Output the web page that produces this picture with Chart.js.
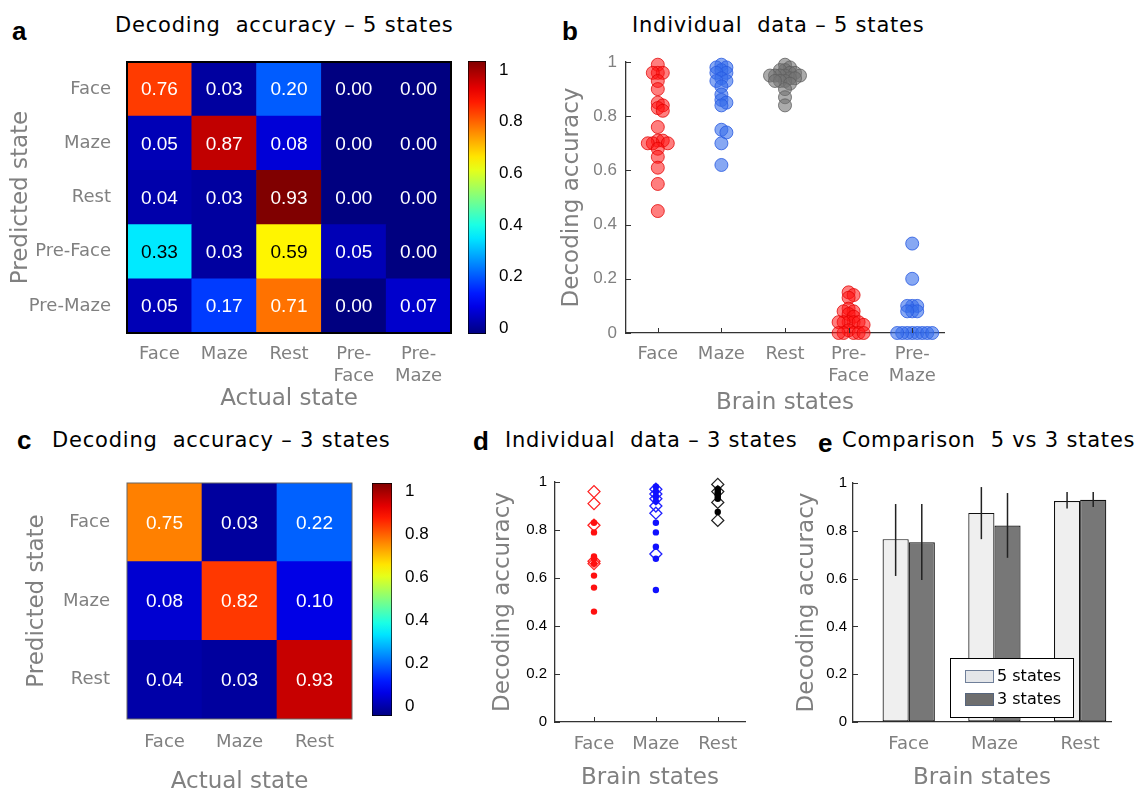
<!DOCTYPE html>
<html>
<head>
<meta charset="utf-8">
<script src="https://cdn.jsdelivr.net/npm/chart.js@4.4.0/dist/chart.umd.min.js"></script>
<style>
  body { margin: 0; width: 1141px; height: 792px; background: #fff; position: relative; overflow: hidden; }
  canvas { position: absolute; }
  .letter { position: absolute; font: bold 26px "Liberation Sans", Arial, sans-serif; line-height: 1; color: #000; }
  .title { position: absolute; font: 21px "DejaVu Sans", sans-serif; line-height: 1; letter-spacing: 0.8px; color: #000; white-space: pre; }
</style>
</head>
<body>
<div class="letter" style="left:12px;top:18px">a</div>
<div class="title" style="left:115px;top:15px">Decoding  accuracy – 5 states</div>
<div class="letter" style="left:562px;top:18px">b</div>
<div class="title" style="left:632px;top:15px">Individual  data – 5 states</div>
<div class="letter" style="left:17px;top:427px">c</div>
<div class="title" style="left:52px;top:430px">Decoding  accuracy – 3 states</div>
<div class="letter" style="left:473px;top:428px">d</div>
<div class="title" style="left:505px;top:430px">Individual  data – 3 states</div>
<div class="letter" style="left:818px;top:430px">e</div>
<div class="title" style="left:842px;top:430px">Comparison  5 vs 3 states</div>

<canvas id="chartA" width="462" height="370" style="left:0;top:50px"></canvas>
<canvas id="cbarA" width="70" height="300" style="left:455px;top:50px"></canvas>
<canvas id="chartB" width="420" height="370" style="left:540px;top:50px"></canvas>
<canvas id="chartC" width="362" height="330" style="left:0;top:470px"></canvas>
<canvas id="cbarC" width="70" height="260" style="left:362px;top:470px"></canvas>
<canvas id="chartD" width="290" height="330" style="left:470px;top:470px"></canvas>
<canvas id="chartE" width="351" height="330" style="left:790px;top:470px"></canvas>

<script>
// Data
const states5 = ['Face', 'Maze', 'Rest', 'Pre-Face', 'Pre-Maze'];
const states5Ticks = ['Face', 'Maze', 'Rest', ['Pre-', 'Face'], ['Pre-', 'Maze']];
const states3 = ['Face', 'Maze', 'Rest'];

// confusion matrices, rows = predicted, cols = actual
const confusion5 = [
    [0.76, 0.03, 0.20, 0.00, 0.00],
    [0.05, 0.87, 0.08, 0.00, 0.00],
    [0.04, 0.03, 0.93, 0.00, 0.00],
    [0.33, 0.03, 0.59, 0.05, 0.00],
    [0.05, 0.17, 0.71, 0.00, 0.07]
];
const confusion3 = [
    [0.75, 0.03, 0.22],
    [0.08, 0.82, 0.10],
    [0.04, 0.03, 0.93]
];
const colorLimit5 = 0.93;
const colorLimit3 = 1.0;
const colorbarTicks = [0, 0.2, 0.4, 0.6, 0.8, 1];
const accuracyTicks = [0, 0.2, 0.4, 0.6, 0.8, 1];

// individual subjects, 5-state decoder
const indiv5Face = [0.99, 0.96, 0.96, 0.96, 0.93, 0.90, 0.85, 0.84, 0.83, 0.82, 0.76, 0.71, 0.71, 0.70, 0.70, 0.70, 0.68, 0.65, 0.61, 0.55, 0.45];
const indiv5Maze = [0.99, 0.98, 0.98, 0.97, 0.96, 0.96, 0.94, 0.93, 0.93, 0.91, 0.88, 0.86, 0.85, 0.84, 0.75, 0.74, 0.70, 0.62];
const indiv5Rest = [0.99, 0.98, 0.97, 0.97, 0.96, 0.96, 0.95, 0.95, 0.95, 0.95, 0.95, 0.94, 0.94, 0.93, 0.93, 0.93, 0.92, 0.90, 0.87, 0.84];
const indiv5PreFace = [0.15, 0.14, 0.13, 0.09, 0.08, 0.08, 0.07, 0.06, 0.04, 0.04, 0.04, 0.04, 0.04, 0.03, 0.01, 0, 0, 0, 0, 0];
const indiv5PreMaze = [0.33, 0.20, 0.10, 0.10, 0.10, 0.08, 0.08, 0.08, 0, 0, 0, 0, 0, 0, 0, 0];

// individual subjects, 3-state decoder (dots / open diamonds)
const indiv3FaceDots = [0.83, 0.79, 0.69, 0.68, 0.66, 0.61, 0.56, 0.46];
const indiv3FaceDiamonds = [0.96, 0.91, 0.82, 0.67, 0.66];
const indiv3MazeDots = [0.98, 0.96, 0.94, 0.92, 0.83, 0.79, 0.73, 0.68, 0.55];
const indiv3MazeDiamonds = [0.97, 0.95, 0.93, 0.90, 0.87, 0.70];
const indiv3RestDots = [0.97, 0.96, 0.95, 0.95, 0.94, 0.93, 0.875];
const indiv3RestDiamonds = [0.99, 0.96, 0.915, 0.84];

// comparison 5 vs 3 states
const mean5 = [0.765, 0.875, 0.925];
const mean3 = [0.752, 0.822, 0.930];
const err5Low = [0.611, 0.765, 0.893];
const err5High = [0.912, 0.983, 0.962];
const err3Low = [0.594, 0.687, 0.900];
const err3High = [0.912, 0.958, 0.962];

// Styles
const GREY = '#808080';
const AXIS = '#333';
const SANS = '"DejaVu Sans", sans-serif';
const ARIAL = '"Liberation Sans", Arial, sans-serif';

// jet colormap, t in [0, 1]
function jetRGB(t) {
    const c = x => Math.round(255 * Math.max(0, Math.min(1, x)));
    return [c(1.5 - Math.abs(4 * t - 3)), c(1.5 - Math.abs(4 * t - 2)), c(1.5 - Math.abs(4 * t - 1))];
}
function jet(t) {
    const [r, g, b] = jetRGB(t);
    return `rgb(${r},${g},${b})`;
}

// fixed axis box, no extra label overflow padding
function fixBox(size) {
    return s => {
        if (s.isHorizontal()) s.height = size; else s.width = size;
        s.paddingTop = s.paddingBottom = s.paddingLeft = s.paddingRight = 0;
    };
}

// Plugins
const cellText = {
    id: 'cellText',
    afterDatasetsDraw(chart, args, opts) {
        const ctx = chart.ctx;
        ctx.save();
        ctx.font = `19px ${ARIAL}`;
        ctx.textAlign = 'center';
        ctx.textBaseline = 'middle';
        chart.data.datasets.forEach((ds, di) => {
            chart.getDatasetMeta(di).data.forEach((bar, i) => {
                const v = ds.cells[i];
                const g = jetRGB(v / opts.limit)[1];
                ctx.fillStyle = g > 200 ? '#000' : '#fff';
                ctx.fillText(v.toFixed(2), bar.x, (bar.y + bar.base) / 2 + 1);
            });
        });
        const a = chart.chartArea;
        ctx.strokeStyle = opts.frameColor;
        ctx.lineWidth = opts.frameWidth;
        ctx.strokeRect(a.left, a.top, a.width, a.height);
        ctx.restore();
    }
};

const innerTicks = {
    id: 'innerTicks',
    afterDraw(chart, args, opts) {
        const { ctx, chartArea: a, scales } = chart;
        ctx.save();
        ctx.strokeStyle = AXIS;
        ctx.lineWidth = 1;
        ctx.beginPath();
        if (opts.x) {
            scales.x.ticks.forEach(t => {
                const px = Math.round(scales.x.getPixelForValue(t.value)) + 0.5;
                ctx.moveTo(px, a.bottom);
                ctx.lineTo(px, a.bottom - 5);
            });
        }
        if (opts.y) {
            scales.y.ticks.forEach(t => {
                const py = Math.round(scales.y.getPixelForValue(t.value)) + 0.5;
                ctx.moveTo(a.left, py);
                ctx.lineTo(a.left + 5, py);
            });
        }
        ctx.stroke();
        ctx.restore();
    }
};

const errorBars = {
    id: 'errorBars',
    afterDatasetsDraw(chart) {
        const { ctx, scales: { y } } = chart;
        ctx.save();
        ctx.strokeStyle = '#222';
        ctx.lineWidth = 1.5;
        chart.data.datasets.forEach((ds, di) => {
            chart.getDatasetMeta(di).data.forEach((bar, i) => {
                ctx.beginPath();
                ctx.moveTo(bar.x, y.getPixelForValue(ds.errLow[i]));
                ctx.lineTo(bar.x, y.getPixelForValue(ds.errHigh[i]));
                ctx.stroke();
            });
        });
        ctx.restore();
    }
};

const boxLegend = {
    id: 'boxLegend',
    afterDraw(chart) {
        const { ctx, chartArea: a } = chart;
        const left = a.right - 161, top = a.bottom - 64;
        ctx.save();
        ctx.fillStyle = '#fff';
        ctx.fillRect(left, top, 123, 59);
        ctx.strokeStyle = '#000';
        ctx.lineWidth = 1;
        ctx.strokeRect(left + 0.5, top + 0.5, 123, 59);
        const items = [
            { text: chart.data.datasets[0].label, fill: '#e4e6e9', edge: '#6f7f99' },
            { text: chart.data.datasets[1].label, fill: '#6e6e6e', edge: '#56657c' }
        ];
        ctx.font = `16px ${SANS}`;
        ctx.textBaseline = 'middle';
        items.forEach((it, i) => {
            const y = top + 12 + i * 23;
            ctx.fillStyle = it.fill;
            ctx.fillRect(left + 15, y, 29, 13);
            ctx.strokeStyle = it.edge;
            ctx.strokeRect(left + 15.5, y + 0.5, 28, 12);
            ctx.fillStyle = '#000';
            ctx.fillText(it.text, left + 47, y + 7);
        });
        ctx.restore();
    }
};

// Heatmap from stacked bars (one dataset per row, bottom row first)
function heatmap(id, rows, cols, colLabels, matrix, limit, o) {
    const n = rows.length;
    const datasets = [];
    for (let k = 0; k < n; k++) {
        const r = n - 1 - k;
        datasets.push({
            data: cols.map(() => 1),
            cells: matrix[r],
            backgroundColor: matrix[r].map(v => jet(v / limit)),
            borderWidth: 0,
            barPercentage: 1,
            categoryPercentage: 1
        });
    }
    return new Chart(document.getElementById(id), {
        type: 'bar',
        data: { labels: colLabels, datasets: datasets },
        options: {
            responsive: false,
            animation: false,
            layout: { padding: o.padding },
            scales: {
                x: {
                    stacked: true,
                    grid: { display: false },
                    border: { display: false },
                    ticks: { color: GREY, font: { family: SANS, size: 18 }, padding: o.xPad, maxRotation: 0, autoSkip: false },
                    title: { display: true, text: 'Actual state', color: GREY, font: { family: SANS, size: 23 }, padding: { top: 0, bottom: o.xTitlePad } },
                    afterFit: fixBox(o.xHeight)
                },
                y: {
                    stacked: true,
                    min: 0,
                    max: n,
                    grid: { display: false },
                    border: { display: false },
                    afterBuildTicks: s => { s.ticks = rows.map((_, i) => ({ value: i + 0.5 })); },
                    ticks: { color: GREY, font: { family: SANS, size: 18 }, padding: o.yPad, callback: v => rows[n - 1 - Math.floor(v)] },
                    title: { display: true, text: 'Predicted state', color: GREY, font: { family: SANS, size: 23 }, padding: { top: o.yTitlePad, bottom: 0 } },
                    afterFit: fixBox(o.yWidth)
                }
            },
            plugins: {
                legend: { display: false },
                tooltip: { enabled: false },
                cellText: { limit: limit, frameColor: o.frameColor, frameWidth: o.frameWidth }
            }
        },
        plugins: [cellText]
    });
}

function jetGradient(chart) {
    const a = chart.chartArea;
    if (!a) return '#000080';
    const g = chart.ctx.createLinearGradient(0, a.bottom, 0, a.top);
    for (let i = 0; i <= 20; i++) g.addColorStop(i / 20, jet(i / 20));
    return g;
}

function colorbar(id, lo, hi, padding, yWidth) {
    return new Chart(document.getElementById(id), {
        type: 'bar',
        data: {
            labels: [''],
            datasets: [{
                data: [[lo, hi]],
                backgroundColor: c => jetGradient(c.chart),
                borderColor: '#000',
                borderWidth: 1,
                borderSkipped: false,
                barPercentage: 1,
                categoryPercentage: 1
            }]
        },
        options: {
            responsive: false,
            animation: false,
            layout: { padding: padding },
            scales: {
                x: { display: false },
                y: {
                    position: 'right',
                    min: lo,
                    max: hi,
                    grid: { display: false },
                    border: { display: false },
                    afterBuildTicks: s => { s.ticks = colorbarTicks.map(v => ({ value: v })); },
                    ticks: { color: '#000', font: { family: ARIAL, size: 17 }, padding: 5, callback: v => String(v) },
                    afterFit: fixBox(yWidth)
                }
            },
            plugins: { legend: { display: false }, tooltip: { enabled: false } }
        }
    });
}

// Axes shared by the accuracy plots
function accuracyScales(labels, o) {
    return {
        x: {
            type: 'linear',
            offset: false,
            min: o.xMin,
            max: o.xMax,
            grid: { display: true, drawOnChartArea: false, drawTicks: false, offset: false },
            border: { color: AXIS, width: 1.3 },
            afterBuildTicks: s => { s.ticks = labels.map((_, i) => ({ value: i + 1 })); },
            ticks: { color: GREY, font: { family: SANS, size: 18 }, padding: o.xPad, maxRotation: 0, autoSkip: false, callback: v => labels[v - 1] },
            title: { display: true, text: 'Brain states', color: GREY, font: { family: SANS, size: 23 }, padding: { top: 0, bottom: o.xTitlePad } },
            afterFit: fixBox(o.xHeight)
        },
        y: {
            min: 0,
            max: 1,
            grid: { display: true, drawOnChartArea: false, drawTicks: false },
            border: { color: AXIS, width: 1.3 },
            afterBuildTicks: s => { s.ticks = accuracyTicks.map(v => ({ value: v })); },
            ticks: { color: o.yTickColor, font: { family: ARIAL, size: o.yTickSize }, padding: o.yPad, callback: v => String(v) },
            title: { display: true, text: 'Decoding accuracy', color: GREY, font: { family: SANS, size: 23 }, padding: { top: o.yTitlePad, bottom: 0 } },
            afterFit: fixBox(o.yWidth)
        }
    };
}

// Simple beeswarm: horizontal offsets (px) so markers do not pile up
function swarm(values, center, pxPerX, pxPerY, gap) {
    const placed = [];
    return values.map(v => {
        let off = 0;
        for (let k = 0; k < 80; k++) {
            const cand = k === 0 ? 0 : (k % 2 ? 1 : -1) * Math.ceil(k / 2) * gap;
            const hit = placed.some(p => Math.hypot(p.dx - cand, (p.v - v) * pxPerY) < gap);
            if (!hit) { off = cand; break; }
        }
        placed.push({ dx: off, v: v });
        return { x: center + off / pxPerX, y: v };
    });
}

// a: 5-state confusion matrix
heatmap('chartA', states5, states5, states5Ticks, confusion5, colorLimit5, {
    padding: { top: 12, right: 11, left: 0, bottom: 0 },
    xHeight: 87, yWidth: 127, xPad: 3, yPad: 8, xTitlePad: 7, yTitlePad: 7,
    frameColor: '#000', frameWidth: 2
});
colorbar('cbarA', -0.023, 1.035, { left: 13, top: 11, bottom: 16, right: 0 }, 39);

// b: individual data, 5 states
const pxX5 = 63.6, pxY5 = 272, gap5 = 5;
const red = { bg: 'rgba(255,20,20,0.55)', edge: 'rgba(225,0,0,0.75)' };
const blue = { bg: 'rgba(55,110,235,0.6)', edge: 'rgba(40,90,225,0.8)' };
const grey = { bg: 'rgba(115,115,115,0.6)', edge: 'rgba(95,95,95,0.8)' };
function swarmSet(values, center, col) {
    return {
        data: swarm(values, center, pxX5, pxY5, gap5),
        backgroundColor: col.bg,
        borderColor: col.edge,
        borderWidth: 1,
        pointRadius: 6.5,
        clip: false
    };
}
new Chart(document.getElementById('chartB'), {
    type: 'scatter',
    data: {
        datasets: [
            swarmSet(indiv5Face, 1, red),
            swarmSet(indiv5Maze, 2, blue),
            swarmSet(indiv5Rest, 3, grey),
            swarmSet(indiv5PreFace, 4, red),
            swarmSet(indiv5PreMaze, 5, blue)
        ]
    },
    options: {
        responsive: false,
        animation: false,
        layout: { padding: { top: 12, right: 16, left: 0, bottom: 0 } },
        scales: accuracyScales(states5Ticks, {
            xMin: 0.5, xMax: 5.5, xPad: 11, xTitlePad: 3, xHeight: 87,
            yWidth: 86, yPad: 9, yTitlePad: 18, yTickColor: GREY, yTickSize: 17
        }),
        plugins: { legend: { display: false }, tooltip: { enabled: false }, innerTicks: { x: true, y: true } }
    },
    plugins: [innerTicks]
});

// c: 3-state confusion matrix
heatmap('chartC', states3, states3, states3, confusion3, colorLimit3, {
    padding: { top: 13, right: 10, left: 0, bottom: 0 },
    xHeight: 81, yWidth: 127, xPad: 5, yPad: 9, xTitlePad: 4, yTitlePad: 23,
    frameColor: '#666', frameWidth: 1
});
colorbar('cbarC', -0.047, 1.04, { left: 10, top: 13, bottom: 14, right: 0 }, 40);

// d: individual data, 3 states
function dotSet(values, center, color) {
    return {
        data: values.map(v => ({ x: center, y: v })),
        backgroundColor: color,
        borderColor: color,
        pointRadius: 3.2,
        borderWidth: 0,
        clip: false
    };
}
function diamondSet(values, center, color) {
    return {
        data: values.map(v => ({ x: center, y: v })),
        pointStyle: 'rectRot',
        backgroundColor: 'rgba(255,255,255,0)',
        borderColor: color,
        pointRadius: 6,
        borderWidth: 1.3,
        clip: false
    };
}
new Chart(document.getElementById('chartD'), {
    type: 'scatter',
    data: {
        datasets: [
            dotSet(indiv3FaceDots, 1, '#ff1010'),
            diamondSet(indiv3FaceDiamonds, 1, '#ff2020'),
            dotSet(indiv3MazeDots, 2, '#1010ff'),
            diamondSet(indiv3MazeDiamonds, 2, '#2020ff'),
            dotSet(indiv3RestDots, 3, '#000'),
            diamondSet(indiv3RestDiamonds, 3, '#222')
        ]
    },
    options: {
        responsive: false,
        animation: false,
        layout: { padding: { top: 12, right: 15, left: 0, bottom: 0 } },
        scales: accuracyScales(states3, {
            xMin: 0.37, xMax: 3.44, xPad: 12, xTitlePad: 8, xHeight: 78,
            yWidth: 85, yPad: 8, yTitlePad: 19, yTickColor: '#000', yTickSize: 15
        }),
        plugins: { legend: { display: false }, tooltip: { enabled: false }, innerTicks: { x: true, y: true } }
    },
    plugins: [innerTicks]
});

// e: comparison bars with error bars
new Chart(document.getElementById('chartE'), {
    type: 'bar',
    data: {
        datasets: [
            {
                label: '5 states',
                data: mean5.map((v, i) => ({ x: i + 1, y: v })),
                errLow: err5Low,
                errHigh: err5High,
                backgroundColor: '#efefef',
                borderColor: '#111',
                borderWidth: 1.2,
                borderSkipped: false
            },
            {
                label: '3 states',
                data: mean3.map((v, i) => ({ x: i + 1, y: v })),
                errLow: err3Low,
                errHigh: err3High,
                backgroundColor: '#777777',
                borderColor: '#111',
                borderWidth: 1.2,
                borderSkipped: false
            }
        ]
    },
    options: {
        responsive: false,
        animation: false,
        categoryPercentage: 0.61,
        barPercentage: 1,
        layout: { padding: { top: 13, right: 30, left: 0, bottom: 0 } },
        scales: accuracyScales(states3, {
            xMin: 0.35, xMax: 3.36, xPad: 12, xTitlePad: 8, xHeight: 78,
            yWidth: 63, yPad: 6, yTitlePad: 3, yTickColor: '#000', yTickSize: 15
        }),
        plugins: { legend: { display: false }, tooltip: { enabled: false }, innerTicks: { x: false, y: true } }
    },
    plugins: [errorBars, innerTicks, boxLegend]
});
</script>
</body>
</html>
